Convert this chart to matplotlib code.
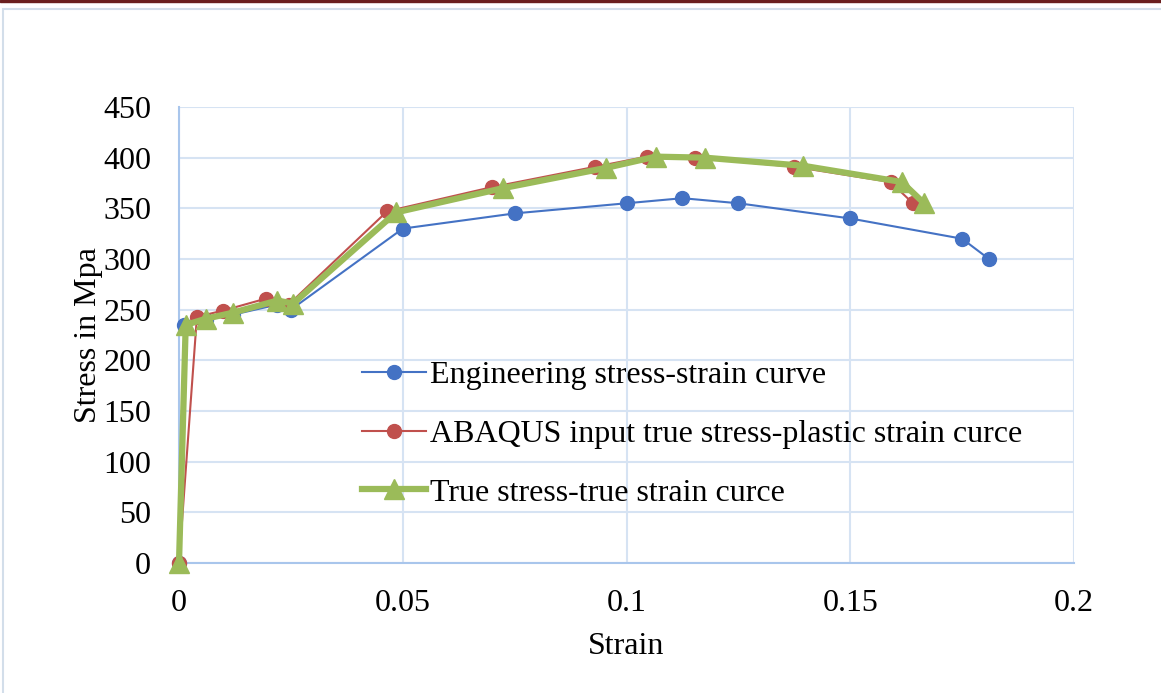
import matplotlib
matplotlib.use("Agg")
import matplotlib.pyplot as plt
from matplotlib.patches import Rectangle
from matplotlib.lines import Line2D

plt.rcParams['font.family'] = ['Liberation Serif', 'DejaVu Serif']

# Engineering stress-strain curve
eng_strain = [0, 0.0012, 0.006, 0.012, 0.022, 0.025, 0.05, 0.075, 0.1, 0.1125, 0.125, 0.15, 0.175, 0.181]
eng_stress = [0, 235, 240, 245, 255, 250, 330, 345, 355, 360, 355, 340, 320, 300]

# ABAQUS input true stress-plastic strain
abq_strain = [0, 0.004, 0.0098, 0.0195, 0.0245, 0.0465, 0.070, 0.093, 0.1045, 0.1153, 0.1375, 0.159, 0.164]
abq_stress = [0, 243, 249, 261, 255, 347, 371, 391, 401, 400, 391, 376, 355]

# True stress-true strain
true_strain = [0, 0.0015, 0.006, 0.012, 0.022, 0.0255, 0.0485, 0.0725, 0.0955, 0.1065, 0.1175, 0.1395, 0.1615, 0.1665]
true_stress = [0, 235, 241, 247, 259, 256, 346, 370, 390, 401, 400, 392, 376, 355]

blue = '#4472C4'
red = '#C0504D'
green = '#9BBB59'

fig = plt.figure(figsize=(11.61, 6.93), dpi=100)
# page decorations: dark red rule on top and a pale frame
fig.patches.append(Rectangle((0, 1 - 2 / 693), 1, 2 / 693, transform=fig.transFigure,
                             color='#6B1F1F', zorder=0))
fig.patches.append(Rectangle((3 / 1161, -0.01), 1.01, 1 - 9 / 693 + 0.01, transform=fig.transFigure,
                             fill=False, edgecolor='#D3DEEA', lw=1.5, zorder=0))

ax = fig.add_axes([179 / 1161, 1 - 563 / 693, (1074 - 179) / 1161, (563 - 107) / 693])

ax.plot(eng_strain, eng_stress, color=blue, lw=1.5, marker='o', ms=10,
        mfc=blue, mec=blue, clip_on=False, zorder=3)
ax.plot(abq_strain, abq_stress, color=red, lw=1.5, marker='o', ms=10,
        mfc=red, mec=red, clip_on=False, zorder=4)
ax.plot(true_strain, true_stress, color=green, lw=4.5, marker='^', ms=15,
        mfc=green, mec=green, clip_on=False, zorder=5)

ax.set_xlim(0, 0.2)
ax.set_ylim(0, 450)
ax.set_xticks([0, 0.05, 0.1, 0.15, 0.2])
ax.set_xticklabels(['0', '0.05', '0.1', '0.15', '0.2'])
ax.set_yticks(range(0, 451, 50))
ax.tick_params(length=0, labelsize=23)
ax.tick_params(axis='x', pad=19)
ax.tick_params(axis='y', pad=20)
ax.grid(True, color='#D6E3F3', lw=1.5)
ax.set_axisbelow(True)
for s in ['top', 'right']:
    ax.spines[s].set_visible(False)
for s in ['left', 'bottom']:
    ax.spines[s].set_color('#A9C6EC')
    ax.spines[s].set_linewidth(1.5)

ax.set_xlabel('Strain', fontsize=23, labelpad=10)
ax.set_ylabel('Stress in Mpa', fontsize=23, labelpad=0)

handles = [
    Line2D([], [], color=blue, lw=1.5, marker='o', ms=10),
    Line2D([], [], color=red, lw=1.5, marker='o', ms=10),
    Line2D([], [], color=green, lw=4.5, marker='^', ms=15),
]
labels = ['Engineering stress-strain curve',
          'ABAQUS input true stress-plastic strain curce',
          'True stress-true strain curce']
fig.legend(handles, labels, loc='upper left', bbox_to_anchor=(349 / 1161, 1 - 348 / 693),
           frameon=False, fontsize=23, handlelength=2.0, handletextpad=0.15,
           labelspacing=0.92, borderaxespad=0)

fig.savefig('out.png', dpi=100)
